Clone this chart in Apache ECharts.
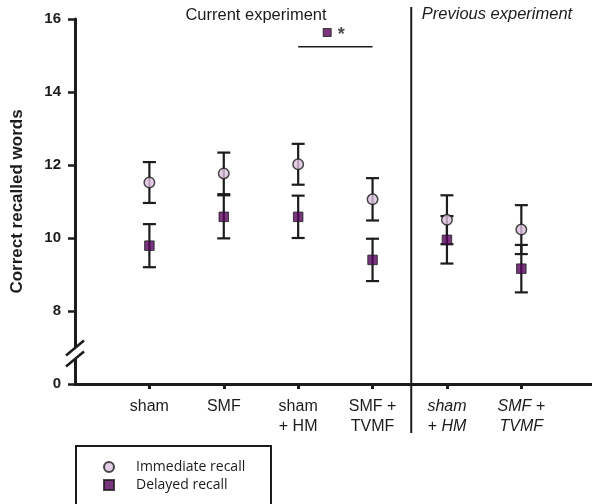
<!DOCTYPE html>
<html>
<head>
<meta charset="utf-8">
<script src="https://cdn.jsdelivr.net/npm/echarts@6/dist/echarts.min.js"></script>
<style>
  html, body { margin: 0; padding: 0; background: #fff; }
  #chart { width: 592px; height: 504px; }
</style>
</head>
<body>
<div id="chart"></div>
<script>
// groups on the x axis (1..6), last two come from the previous experiment
const groupPos = [1, 2, 3, 4, 5, 6];
const groupLabels = ["sham", "SMF", "sham\n+ HM", "SMF +\nTVMF", "sham\n+ HM", "SMF +\nTVMF"];
const italicGroups = [false, false, false, false, true, true];

// mean and error of correct recalled words
const immediateMean = [11.52, 11.77, 12.02, 11.06, 10.50, 10.23];
const immediateErr = [0.56, 0.57, 0.56, 0.58, 0.67, 0.67];
const delayedMean = [9.79, 10.58, 10.58, 9.40, 9.95, 9.16];
const delayedErr = [0.59, 0.59, 0.58, 0.58, 0.65, 0.65];

// y axis: break below 8, bottom tick is shown as 0
const yTicks = [6, 8, 10, 12, 14, 16];

// significance bar between sham + HM and SMF + TVMF (delayed recall)
const sigSpan = [3, 4];
const sigLevel = 15.24;
const sigMark = [3.39, 15.63];

const separatorX = 4.52;

const circleFill = "#dcc2de";
const squareFill = "#56045c";
const ink = "#1c1c1c";

const chart = echarts.init(document.getElementById("chart"));

function errData(mean, err) {
  return groupPos.map((x, i) => [x, mean[i] - err[i], mean[i] + err[i]]);
}

function errorBarItem(params, api) {
  const x = api.value(0);
  const lo = api.coord([x, api.value(1)]);
  const hi = api.coord([x, api.value(2)]);
  const half = 6.5;
  const style = { stroke: ink, lineWidth: 2.2 };
  return {
    type: "group",
    children: [
      { type: "line", shape: { x1: lo[0], y1: lo[1], x2: hi[0], y2: hi[1] }, style },
      { type: "line", shape: { x1: lo[0] - half, y1: lo[1], x2: lo[0] + half, y2: lo[1] }, style },
      { type: "line", shape: { x1: hi[0] - half, y1: hi[1], x2: hi[0] + half, y2: hi[1] }, style }
    ]
  };
}

const option = {
  backgroundColor: "#fff",
  animation: false,
  grid: { left: 75, right: 0, top: 19, bottom: 120, containLabel: false, outerBoundsMode: "none" },
  xAxis: {
    type: "value",
    min: 0,
    max: 6.95,
    interval: 1,
    splitLine: { show: false },
    axisLine: { show: true, lineStyle: { color: ink, width: 3 } },
    axisTick: {
      show: true,
      customValues: groupPos,
      length: 5,
      lineStyle: { color: ink, width: 3 }
    },
    axisLabel: {
      customValues: groupPos,
      margin: 13,
      formatter: function (v) {
        const i = groupPos.indexOf(v);
        if (i < 0) return "";
        const tag = italicGroups[i] ? "i" : "n";
        return groupLabels[i].split("\n").map(l => "{" + tag + "|" + l + "}").join("\n");
      },
      rich: {
        n: { fontFamily: "Liberation Sans", fontSize: 16, color: ink, lineHeight: 20 },
        i: { fontFamily: "Liberation Sans", fontSize: 16, fontStyle: "italic", color: ink, lineHeight: 20 }
      }
    }
  },
  yAxis: {
    type: "value",
    min: 6,
    max: 16,
    interval: 2,
    name: "Correct recalled words",
    nameLocation: "middle",
    nameGap: 49,
    nameTextStyle: { fontFamily: "Liberation Sans", fontSize: 17, fontWeight: "bold", color: ink },
    splitLine: { show: false },
    axisLine: { show: true, lineStyle: { color: ink, width: 3 } },
    axisTick: { show: true, length: 7, lineStyle: { color: ink, width: 2.5 } },
    axisLabel: {
      fontFamily: "Liberation Sans",
      fontSize: 15,
      fontWeight: "bold",
      color: ink,
      margin: 14,
      formatter: v => (v === yTicks[0] ? "0" : String(v))
    }
  },
  legend: {
    orient: "vertical",
    left: 98,
    top: 455,
    itemWidth: 10,
    itemHeight: 10,
    itemGap: 4,
    data: ["Immediate recall", "Delayed recall"],
    textStyle: { fontFamily: "Open Sans", fontSize: 14, color: ink, padding: [0, 0, 0, 17] }
  },
  series: [
    {
      type: "custom",
      name: "immErr",
      renderItem: errorBarItem,
      data: errData(immediateMean, immediateErr),
      z: 2
    },
    {
      type: "custom",
      name: "delErr",
      renderItem: errorBarItem,
      data: errData(delayedMean, delayedErr),
      z: 2
    },
    {
      type: "scatter",
      name: "Immediate recall",
      symbol: "circle",
      symbolSize: 10.5,
      itemStyle: { color: circleFill, borderColor: ink, borderWidth: 1.5 },
      data: groupPos.map((x, i) => [x, immediateMean[i]]),
      z: 3
    },
    {
      type: "scatter",
      name: "Delayed recall",
      symbol: "rect",
      symbolSize: 9.5,
      itemStyle: { color: squareFill, borderColor: ink, borderWidth: 1 },
      data: groupPos.map((x, i) => [x, delayedMean[i]]),
      z: 3
    },
    {
      type: "line",
      name: "sigBar",
      symbol: "none",
      silent: true,
      lineStyle: { color: ink, width: 1.5 },
      data: sigSpan.map(x => [x, sigLevel])
    },
    {
      type: "scatter",
      name: "sigMark",
      symbol: "rect",
      symbolSize: 8,
      silent: true,
      itemStyle: { color: squareFill, borderColor: ink, borderWidth: 1 },
      label: {
        show: true,
        position: "right",
        distance: 6,
        formatter: "*",
        fontFamily: "Liberation Sans",
        fontSize: 18,
        fontWeight: "bold",
        color: ink,
        offset: [0, 3]
      },
      data: [sigMark]
    }
  ]
};

chart.setOption(option);

// decorations that depend on the axis scale: separator line, axis break, titles, legend box
const corner = chart.convertToPixel({ gridIndex: 0 }, [0, yTicks[0]]);
const sepX = chart.convertToPixel({ gridIndex: 0 }, [separatorX, yTicks[0]])[0];
const slash = (cy) => ({
  type: "line",
  shape: { x1: corner[0] - 9, y1: cy + 7.5, x2: corner[0] + 9, y2: cy - 7.5 },
  style: { stroke: ink, lineWidth: 2.5 },
  z: 20
});

chart.setOption({
  graphic: [
    {
      type: "line",
      shape: { x1: sepX, y1: 7, x2: sepX, y2: 433 },
      style: { stroke: ink, lineWidth: 2 },
      z: 10
    },
    {
      type: "rect",
      shape: { x: corner[0] - 3, y: corner[1] - 37, width: 6, height: 12 },
      style: { fill: "#fff" },
      z: 19
    },
    slash(corner[1] - 36),
    slash(corner[1] - 25),
    {
      type: "text",
      x: 256,
      y: 15,
      style: {
        text: "Current experiment",
        font: "16.5px 'Liberation Sans'",
        fill: ink,
        align: "center",
        verticalAlign: "middle"
      }
    },
    {
      type: "text",
      x: 497,
      y: 14,
      style: {
        text: "Previous experiment",
        font: "italic 16.5px 'Liberation Sans'",
        fill: ink,
        align: "center",
        verticalAlign: "middle"
      }
    },
    {
      type: "rect",
      shape: { x: 76, y: 446, width: 195, height: 60 },
      style: { fill: null, stroke: ink, lineWidth: 2 },
      z: 5
    }
  ]
});
</script>
</body>
</html>
